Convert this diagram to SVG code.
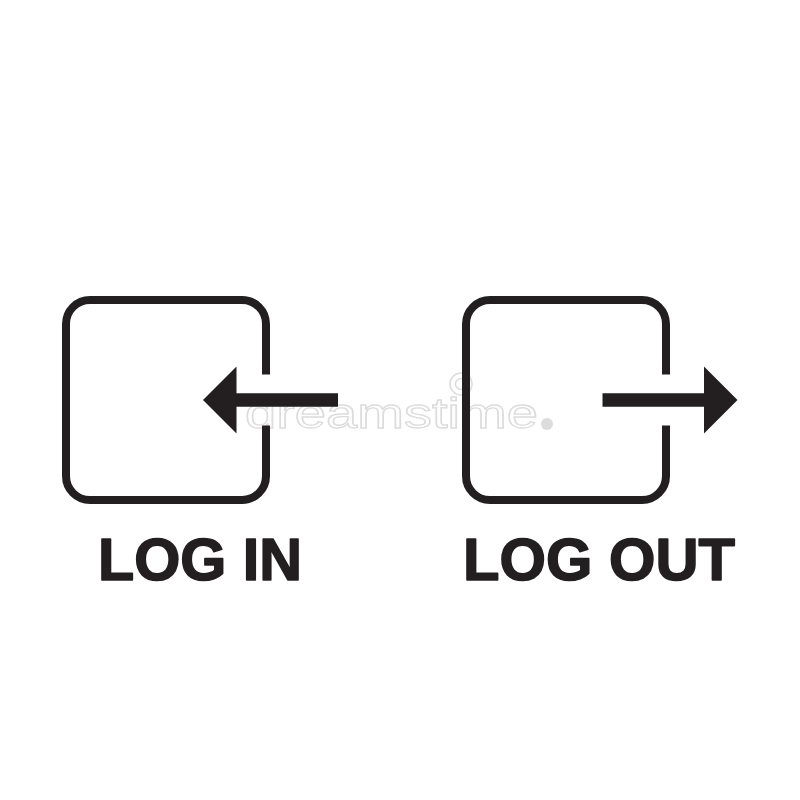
<svg xmlns="http://www.w3.org/2000/svg" width="800" height="800" viewBox="0 0 800 800">
  <style>
    .frame { fill: none; stroke: #231f20; stroke-width: 8; stroke-linecap: butt; }
    .arrow { fill: #231f20; }
    .label { fill: #231f20; stroke: #231f20; stroke-width: 1.6; stroke-linejoin: round; font-family: "Liberation Sans", Arial, sans-serif; font-weight: bold; font-size: 59px; }
    .mark { fill: #fff; stroke: #dcdcdc; stroke-width: 1.3; font-family: "Liberation Sans", Arial, sans-serif; font-size: 42px; }
    .markshape { fill: none; stroke: #dcdcdc; stroke-width: 1.5; }
  </style>
  <rect width="800" height="800" fill="#fff"/>
  <g id="watermark">
    <text class="mark" x="245" y="428" textLength="293" lengthAdjust="spacingAndGlyphs">dreamstime</text>
    <circle class="markshape" cx="461" cy="384" r="11"/>
    <circle class="markshape" cx="461" cy="384" r="5.500"/>
    <circle cx="547" cy="424" r="6" fill="#dcdcdc"/>
  </g>
  <g id="log-in">
    <path class="frame" d="M266 374.500V324a24 24 0 0 0-24-24H90a24 24 0 0 0-24 24V476a24 24 0 0 0 24 24H242a24 24 0 0 0 24-24V425.500"/>
    <path class="arrow" d="M203 400L236.500 366.500V393.300H338V406.700H236.500V433.500Z"/>
    <text class="label" x="98" y="580" textLength="204" lengthAdjust="spacingAndGlyphs">LOG IN</text>
  </g>
  <g id="log-out">
    <path class="frame" d="M666 374.500V324a24 24 0 0 0-24-24H490a24 24 0 0 0-24 24V476a24 24 0 0 0 24 24H642a24 24 0 0 0 24-24V425.500"/>
    <path class="arrow" d="M737.500 400L704 366.500V393.300H602.500V406.700H704V433.500Z"/>
    <text class="label" x="463" y="580" textLength="272" lengthAdjust="spacingAndGlyphs">LOG OUT</text>
  </g>
</svg>
